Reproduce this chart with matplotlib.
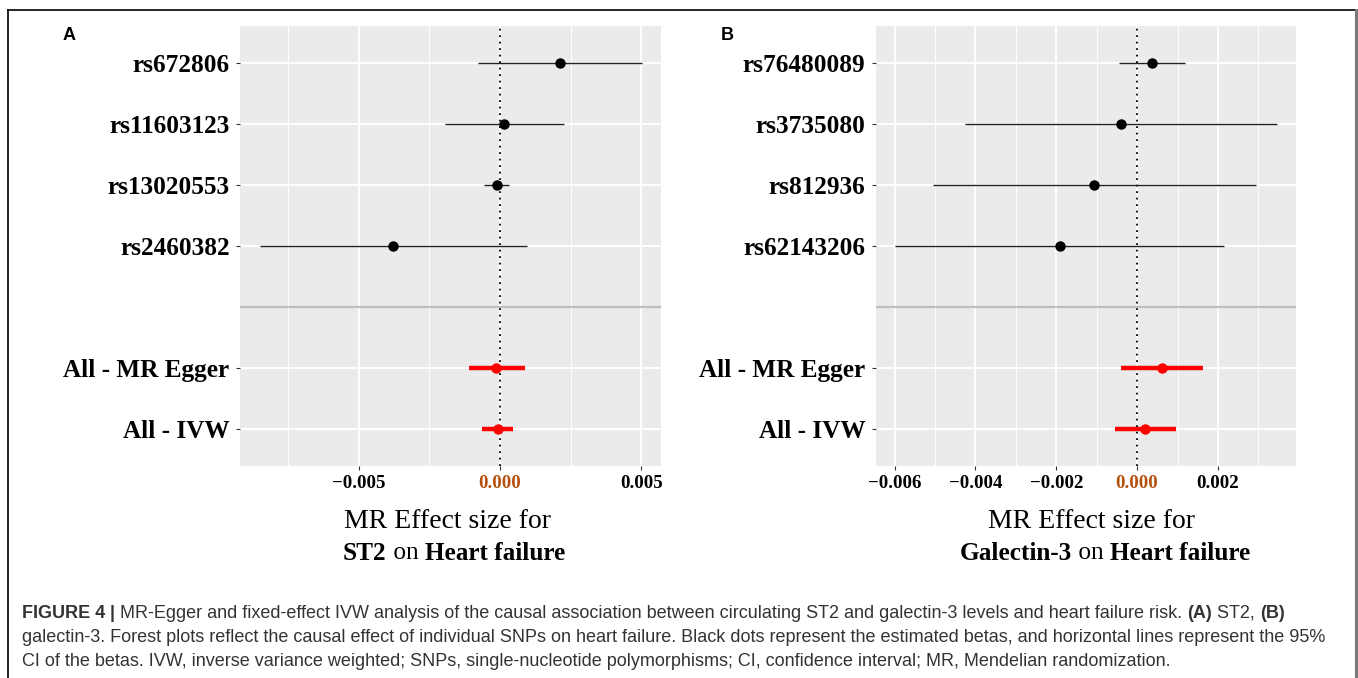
import numpy as np
import matplotlib
matplotlib.use("Agg")
import matplotlib.pyplot as plt
from matplotlib.ticker import MultipleLocator
from matplotlib.lines import Line2D

# Panel A: ST2
snps_a = ["rs672806", "rs11603123", "rs13020553", "rs2460382"]
beta_a = [0.00212, 0.00014, -0.00012, -0.00379]
lo_a = [-0.00077, -0.00196, -0.00057, -0.00850]
hi_a = [0.00501, 0.00225, 0.00033, 0.00094]

# Panel B: Galectin-3
snps_b = ["rs76480089", "rs3735080", "rs812936", "rs62143206"]
beta_b = [0.00037, -0.00040, -0.00106, -0.00192]
lo_b = [-0.00044, -0.00426, -0.00505, -0.00600]
hi_b = [0.00118, 0.00346, 0.00295, 0.00216]

methods = ["All - MR Egger", "All - IVW"]
mbeta_a = [-0.00013, -0.00008]
mlo_a = [-0.00110, -0.00063]
mhi_a = [0.00088, 0.00046]
mbeta_b = [0.00061, 0.00020]
mlo_b = [-0.00040, -0.00055]
mhi_b = [0.00163, 0.00097]

xticks_a = [-0.005, 0.000, 0.005]
xticks_b = [-0.006, -0.004, -0.002, 0.000, 0.002]

caption = [
    [("FIGURE 4", "bold"), (" | ", "bold"),
     ("MR-Egger and fixed-effect IVW analysis of the causal association between circulating ST2 and galectin-3 levels and heart failure risk. ", "normal"),
     ("(A)", "bold"), (" ST2, ", "normal"), ("(B)", "bold")],
    [("galectin-3. Forest plots reflect the causal effect of individual SNPs on heart failure. Black dots represent the estimated betas, and horizontal lines represent the 95%", "normal")],
    [("CI of the betas. IVW, inverse variance weighted; SNPs, single-nucleotide polymorphisms; CI, confidence interval; MR, Mendelian randomization.", "normal")],
]

W, H = 1358, 678
fig = plt.figure(figsize=(W / 100, H / 100), dpi=100)
renderer = fig.canvas.get_renderer()

SERIF = "Liberation Serif"
SANS = "Liberation Sans"
BG = "#EBEBEB"


def fx(px):
    return px / W


def fy(py):
    return 1 - py / H


def runs(x, y, parts, ha="left", **kw):
    # draw text pieces with different weights side by side, x,y in fig fraction
    texts = []
    widths = []
    for s, w in parts:
        t = fig.text(x, y, s.replace(" ", "\u00a0"), fontweight=w, va="center", ha="left", **kw)
        bb = t.get_window_extent(renderer)
        texts.append(t)
        widths.append(bb.width / W)
    total = sum(widths)
    start = x - total / 2 if ha == "center" else x
    for t, w in zip(texts, widths):
        t.set_x(start)
        start += w


def forest(ax, snps, beta, lo, hi, mbeta, mlo, mhi, xlim, xticks, minor):
    n = len(snps)
    ys = list(range(n + 2, 2, -1))
    my = [1, 0]
    ax.set_facecolor(BG)
    ax.set_xlim(*xlim)
    ax.set_ylim(-0.6, n + 2.6)
    ax.set_xticks(xticks)
    ax.xaxis.set_minor_locator(MultipleLocator(minor))
    ax.set_yticks(ys + my)
    ax.set_yticklabels(snps + methods)
    ax.grid(True, which="major", color="white", lw=1.4)
    ax.grid(True, which="minor", axis="x", color="white", lw=0.7)
    ax.set_axisbelow(True)
    for s in ax.spines.values():
        s.set_visible(False)
    ax.tick_params(axis="both", which="major", length=3, color="#333333", width=0.8)
    ax.tick_params(axis="x", which="minor", length=0)
    ax.tick_params(axis="y", pad=4.5)
    ax.tick_params(axis="x", pad=3.5)
    for lab in ax.get_yticklabels():
        lab.set_fontfamily(SERIF)
        lab.set_fontweight("bold")
        lab.set_fontsize(18.2)
        lab.set_color("black")
    labels = [("%.3f" % v).replace("-", "\u2212") for v in xticks]
    ax.set_xticklabels(labels)
    for v, lab in zip(xticks, ax.get_xticklabels()):
        lab.set_fontfamily(SERIF)
        lab.set_fontweight("bold")
        lab.set_fontsize(13.6)
        lab.set_color("#B5500F" if v == 0 else "black")

    ax.axhline(2, color="#BEBEBE", lw=1.6, zorder=2)
    ax.axvline(0, color="black", lw=1.3, ls=(0, (1, 2.6)), zorder=3)
    ax.hlines(ys, lo, hi, color="#222222", lw=1.0, zorder=4)
    ax.plot(beta, ys, "o", color="black", ms=6.5, zorder=5)
    ax.hlines(my, mlo, mhi, color="red", lw=3.2, zorder=4)
    ax.plot(mbeta, my, "o", color="red", ms=6.5, zorder=5)


ax_a = fig.add_axes([fx(240), fy(466), fx(661 - 240), (466 - 26) / H])
ax_b = fig.add_axes([fx(875.7), fy(466), fx(1296.3 - 875.7), (466 - 26) / H])

forest(ax_a, snps_a, beta_a, lo_a, hi_a, mbeta_a, mlo_a, mhi_a,
       (-0.0092, 0.0057), xticks_a, 0.0025)
forest(ax_b, snps_b, beta_b, lo_b, hi_b, mbeta_b, mlo_b, mhi_b,
       (-0.00647, 0.00394), xticks_b, 0.001)

# panel letters
fig.text(fx(69), fy(36), "A", fontfamily=SANS, fontweight="bold", fontsize=13, ha="center", va="center")
fig.text(fx(727), fy(36), "B", fontfamily=SANS, fontweight="bold", fontsize=13, ha="center", va="center")

# x axis titles
for cx1, cx2, name in [(448, 454, "ST2"), (1092, 1105, "Galectin-3")]:
    fig.text(fx(cx1), fy(521), "MR Effect size for", fontfamily=SERIF, fontsize=20, ha="center", va="center")
    runs(fx(cx2), fy(553), [(name, "bold"), (" on ", "normal"), ("Heart failure", "bold")],
         ha="center", fontfamily=SERIF, fontsize=18.2, color="black")

# caption
for i, line in enumerate(caption):
    runs(fx(22), fy(613 + 24 * i), line, fontfamily=SANS, fontsize=13, color="#333333")

# frame around the figure
fig.add_artist(Line2D([fx(8), fx(1356)], [fy(10), fy(10)], color="black", lw=1.2))
fig.add_artist(Line2D([fx(8), fx(8)], [fy(10), 0], color="black", lw=1.2))
fig.add_artist(Line2D([fx(1356), fx(1356)], [fy(10), 0], color="#7a7a7a", lw=2.2))

fig.savefig("out.png", dpi=100)
